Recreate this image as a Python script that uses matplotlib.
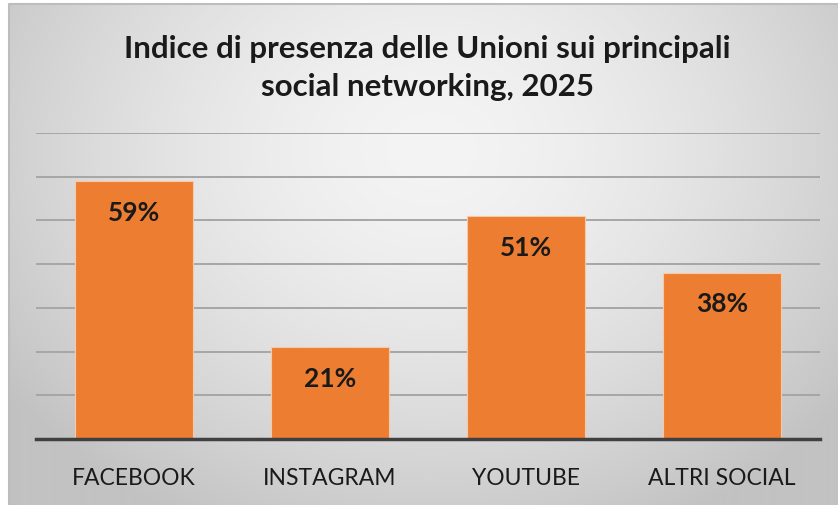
import numpy as np
import matplotlib.pyplot as plt

# --- dati ---
categorie = ["FACEBOOK", "INSTAGRAM", "YOUTUBE", "ALTRI SOCIAL"]
valori = [59, 21, 51, 38]
etichette = ["59%", "21%", "51%", "38%"]
titolo = "Indice di presenza delle Unioni sui principali\nsocial networking, 2025"

W, H = 838, 506
plt.rcParams['font.family'] = ['Lato', 'DejaVu Sans']

fig = plt.figure(figsize=(W / 100, H / 100), dpi=100)
fig.patch.set_facecolor("white")

# --- sfondo sfumato (radiale) ---
bg = fig.add_axes([0, 0, 1, 1])
bg.set_xlim(0, W)
bg.set_ylim(H, 0)
bg.axis("off")
x0, y0 = 9, 5
yy, xx = np.mgrid[y0:H, x0:W]
r = np.sqrt(((xx - 430) / 520) ** 2 + ((yy - 150) / 420) ** 2)
r = np.clip(r, 0, 1)
val = (244 - 50 * r ** 1.6) / 255
img = np.dstack([val, val, val])
bg.imshow(img, extent=(x0, W, H, y0), aspect="auto", interpolation="bilinear")
# bordo solo in alto e a sinistra (immagine tagliata a destra e in basso)
bg.plot([x0, x0, W], [H, y0, y0], color="#bdbdbd", linewidth=1.5)

# --- grafico ---
ax = fig.add_axes([36 / W, 66 / H, 784 / W, 306 / H])
ax.patch.set_alpha(0)
x = np.arange(len(categorie))
ax.bar(x, valori, width=0.6, color="#ED7D31", edgecolor="#f6c9a8",
       linewidth=0.8, zorder=3)

for i, v in enumerate(valori):
    ax.text(x[i], v - 7, etichette[i], ha="center", va="center",
            fontsize=19, fontweight="bold", color="#1a1a1a", zorder=4)

ax.set_xlim(-0.5, len(categorie) - 0.5)
ax.set_ylim(0, 70)
ax.set_yticks(np.arange(10, 80, 10))
ax.yaxis.grid(True, color="#a6a6a6", linewidth=1.4, zorder=0)
ax.tick_params(axis="y", left=False, labelleft=False)
ax.tick_params(axis="x", bottom=False, labelsize=16.5, pad=17, labelcolor="#1a1a1a")
ax.set_xticks(x)
ax.set_xticklabels(categorie)
for s in ["top", "right", "left"]:
    ax.spines[s].set_visible(False)
ax.spines["bottom"].set_color("#404040")
ax.spines["bottom"].set_linewidth(2.5)
ax.spines["bottom"].set_zorder(5)

fig.text(427 / W, 1 - 68 / H, titolo, ha="center", va="center",
         fontsize=22.5, fontweight="bold", color="#1a1a1a", linespacing=1.42)

fig.savefig("out.png", dpi=100)
